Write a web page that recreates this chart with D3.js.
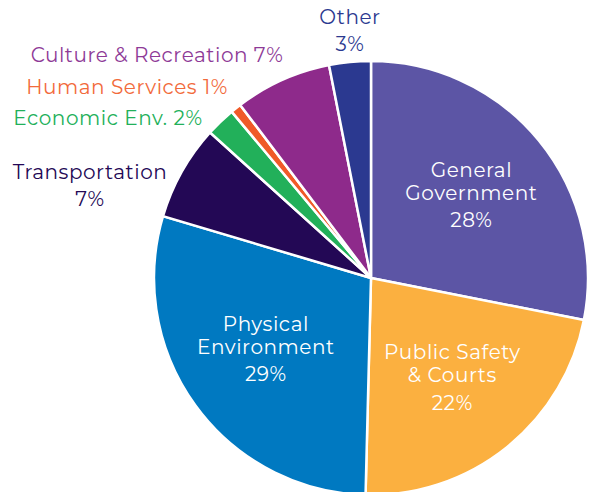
<!DOCTYPE html>
<html><head><meta charset="utf-8">
<script src="https://cdn.jsdelivr.net/npm/d3@7"></script>
<style>body{margin:0;background:#fff}svg{display:block}text{font-family:Montserrat,"Open Sans",Lato,sans-serif;font-weight:400;letter-spacing:0.55px}</style>
</head><body><svg id="c" width="592" height="492"></svg>
<script>
const categories = ["General Government","Public Safety & Courts","Physical Environment","Transportation","Economic Env.","Human Services","Culture & Recreation","Other"];
const values = [28.1, 22.3, 29.2, 7.1, 2.2, 0.8, 7.2, 3.1];
const pctLabels = ["28%","22%","29%","7%","2%","1%","7%","3%"];
const colors = ["#5c55a5","#fbb040","#0079c1","#230855","#22b05a","#f05a28","#8e2a8b","#2b3990"];
const textColors = ["#fff","#fff","#fff","#230855","#22b05a","#f26a3b","#8e3a97","#2b3990"];
const labelLines = [["General","Government"],["Public Safety","& Courts"],["Physical","Environment"],["Transportation"],["Economic Env. 2%"],["Human Services 1%"],["Culture & Recreation 7%"],["Other"]];

const W=592,H=492,cx=371,cy=278,R=217;
const svg=d3.select("#c");
const g=svg.append("g").attr("transform",`translate(${cx},${cy})`);
const pie=d3.pie().sort(null).value(d=>d);
const arcs=pie(values);
const arc=d3.arc().innerRadius(0).outerRadius(R);
g.selectAll("path").data(arcs).join("path")
 .attr("d",arc).attr("fill",(d,i)=>colors[i]).attr("stroke","#fff").attr("stroke-width",2.5).attr("stroke-linejoin","miter");

const inner=d3.arc().innerRadius(130).outerRadius(130);
const fs=20;
const innerOffs=[[-18,5,32],[-20,3,31],[-23,0,27]];
[0,1,2].forEach(i=>{
  const [x,y]=inner.centroid(arcs[i]);
  const lines=labelLines[i].concat([pctLabels[i]]);
  lines.forEach((l,k)=>g.append("text").attr("text-anchor","middle").attr("fill","#fff").attr("font-size",fs)
    .attr("x",x).attr("y",y+innerOffs[i][k]).text(l));
});
const outerPos={3:[90,179],4:[108,125],5:[127,94],6:[157,62],7:[350,24]};
Object.entries(outerPos).forEach(([i,[x,y]])=>{
  i=+i;
  svg.append("text").attr("text-anchor","middle").attr("fill",textColors[i]).attr("font-size",fs)
    .attr("x",x).attr("y",y).text(labelLines[i][0]);
  if(i===3||i===7) svg.append("text").attr("text-anchor","middle").attr("fill",textColors[i]).attr("font-size",fs)
    .attr("x",x).attr("y",y+27).text(pctLabels[i]);
});
</script></body></html>
